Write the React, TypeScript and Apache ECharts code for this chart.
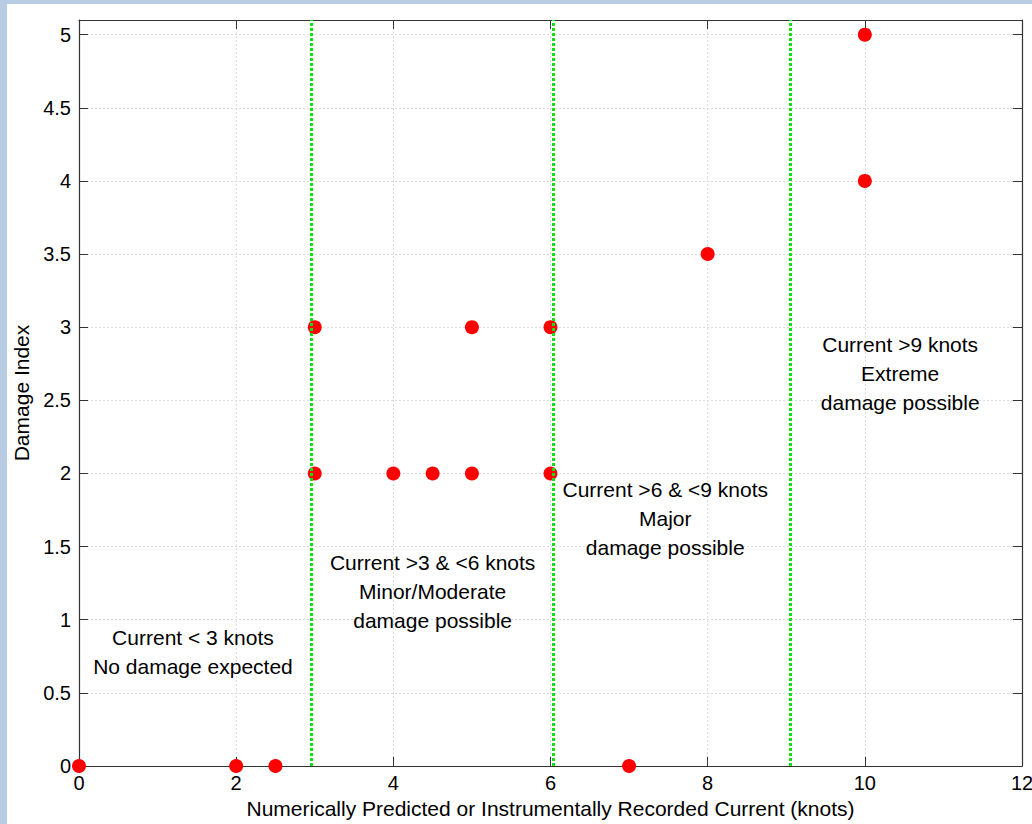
import React, { useEffect, useRef } from "react";
import * as echarts from "echarts";

const pointsX = [0, 2, 2.5, 7, 3, 3, 4, 4.5, 5, 6, 5, 6, 8, 10, 10];
const pointsY = [0, 0, 0, 0, 3, 2, 2, 2, 2, 2, 3, 3, 3.5, 4, 5];

const thresholdX = [2.96, 6.03, 9.05];

const xTicks = [0, 2, 4, 6, 8, 10, 12];
const yTicks = [0, 0.5, 1, 1.5, 2, 2.5, 3, 3.5, 4, 4.5, 5];

const noteX = [1.45, 4.5, 7.46, 10.45];
const noteY = [0.78, 1.19, 1.69, 2.68];
const noteText = [
  "Current < 3 knots\nNo damage expected",
  "Current >3 & <6 knots\nMinor/Moderate\ndamage possible",
  "Current >6 & <9 knots\nMajor\ndamage possible",
  "Current >9 knots\nExtreme\ndamage possible",
];

const xTitle = "Numerically Predicted or Instrumentally Recorded Current (knots)";
const yTitle = "Damage Index";

export default function App() {
  const ref = useRef<HTMLDivElement>(null);
  useEffect(() => {
    if (!ref.current) return;
    const chart = echarts.init(ref.current, undefined, { renderer: "svg" });
    const font = "'Liberation Sans', Arial, sans-serif";
    const axisLineColor = "#333";
    const txt = "#000";
    const gridLine = { show: true, lineStyle: { color: "#dcdcdc", type: [2, 2], width: 1 } };
    const tick = { show: true, inside: true, length: 9, lineStyle: { color: axisLineColor } };
    const line = { show: true, onZero: false, lineStyle: { color: axisLineColor, width: 1.2 } };
    chart.setOption({
      animation: false,
      textStyle: { fontFamily: font },
      grid: {
        left: 72,
        right: 10,
        top: 16,
        bottom: 58,
        containLabel: false,
        outerBoundsMode: "none",
      },
      xAxis: [
        {
          type: "value",
          min: 0,
          max: 12,
          interval: 2,
          position: "bottom",
          name: xTitle,
          nameLocation: "middle",
          nameGap: 31,
          nameTextStyle: { fontSize: 21, color: txt, fontFamily: font },
          axisLine: line,
          axisTick: { ...tick, customValues: xTicks },
          axisLabel: { fontSize: 20, color: txt, margin: 7, fontFamily: font, customValues: xTicks },
          splitLine: gridLine,
        },
        {
          type: "value",
          min: 0,
          max: 12,
          interval: 2,
          position: "top",
          axisLine: line,
          axisTick: { ...tick, customValues: xTicks },
          axisLabel: { show: false },
          splitLine: { show: false },
        },
      ],
      yAxis: [
        {
          type: "value",
          min: 0,
          max: 5.1,
          interval: 0.5,
          position: "left",
          name: yTitle,
          nameLocation: "middle",
          nameGap: 44,
          nameTextStyle: { fontSize: 21, color: txt, fontFamily: font },
          axisLine: line,
          axisTick: { ...tick, customValues: yTicks },
          axisLabel: { fontSize: 20, color: txt, margin: 8, fontFamily: font, customValues: yTicks },
          splitLine: gridLine,
        },
        {
          type: "value",
          min: 0,
          max: 5.1,
          interval: 0.5,
          position: "right",
          axisLine: line,
          axisTick: { ...tick, customValues: yTicks },
          axisLabel: { show: false },
          splitLine: { show: false },
        },
      ],
      series: [
        {
          type: "scatter",
          xAxisIndex: 0,
          yAxisIndex: 0,
          clip: false,
          symbol: "circle",
          symbolSize: 14,
          itemStyle: { color: "#ff0000", opacity: 1 },
          data: pointsX.map((x, i) => [x, pointsY[i]]),
          z: 3,
        },
        {
          type: "line",
          xAxisIndex: 0,
          yAxisIndex: 0,
          data: [],
          z: 5,
          markLine: {
            silent: true,
            symbol: ["none", "none"],
            label: { show: false },
            lineStyle: { color: "#12e012", width: 3, type: [3, 2], cap: "butt", opacity: 1 },
            data: thresholdX.map((x) => ({ xAxis: x })),
          },
        },
        {
          type: "scatter",
          xAxisIndex: 0,
          yAxisIndex: 0,
          symbolSize: 0,
          silent: true,
          z: 6,
          itemStyle: { opacity: 1, color: "transparent" },
          data: noteX.map((x, i) => ({ value: [x, noteY[i]], name: noteText[i] })),
          label: {
            show: true,
            position: "inside",
            formatter: (p: any) => p.name,
            fontSize: 21,
            lineHeight: 29,
            align: "center",
            verticalAlign: "middle",
            color: txt,
            fontFamily: font,
          },
        },
      ],
    });
    return () => chart.dispose();
  }, []);
  return (
    <div
      style={{
        position: "absolute",
        left: 0,
        top: 0,
        width: 1032,
        height: 824,
        background: "#b8cce4",
        overflow: "hidden",
      }}
    >
      <div
        ref={ref}
        style={{
          position: "absolute",
          left: 7,
          top: 4,
          width: 1025,
          height: 820,
          background: "#ffffff",
        }}
      />
    </div>
  );
}
